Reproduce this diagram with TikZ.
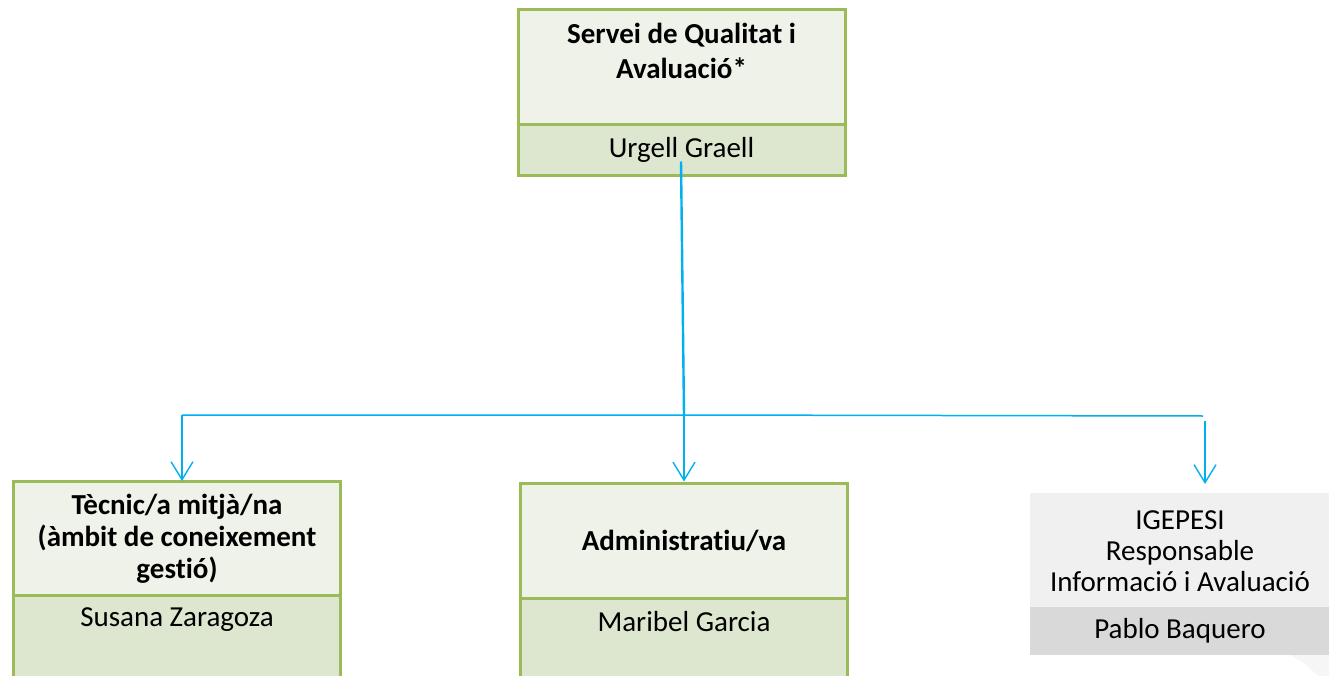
\documentclass[tikz,border=0pt]{standalone}
\usepackage{fontspec}
\setmainfont{Carlito}[Ligatures=NoCommon]
\usetikzlibrary{arrows.meta,calc}
\definecolor{hdrfill}{HTML}{EFF2E8}
\definecolor{namefill}{HTML}{DDE6CF}
\definecolor{boxline}{HTML}{9BBB59}
\definecolor{conn}{HTML}{00B0F0}
\definecolor{grayhdr}{HTML}{F0F0F0}
\definecolor{grayname}{HTML}{D9D9D9}
\tikzset{
  gbox/.style={draw=boxline, line width=3pt, rectangle, inner sep=0pt, minimum width=327pt},
  hdr/.style={gbox, fill=hdrfill},
  nm/.style={gbox, fill=namefill},
  gyhdr/.style={rectangle, fill=grayhdr, inner sep=0pt, minimum width=310pt},
  gynm/.style={rectangle, fill=grayname, inner sep=0pt, minimum width=310pt},
  ttl/.style={align=center, font=\fontsize{29}{32}\selectfont\bfseries},
  txt/.style={align=center, font=\fontsize{29}{31}\selectfont},
  cline/.style={draw=conn, line width=1.5pt},
  carr/.style={cline, -{Straight Barb[length=18pt,width=22pt,line width=1.4pt]}}
}
\begin{document}
\begin{tikzpicture}[x=1pt,y=-1pt]
\useasboundingbox (0,0) rectangle (1329,676);
\clip (0,0) rectangle (1329,676);
\fill[white] (0,0) rectangle (1329,676);
% top box
\node[hdr, minimum height=115pt] (tophdr) at (681.5,67.5) {};
\node[nm, minimum height=51pt] (topnm) at (681.5,150.5) {};
\node[ttl, font=\fontsize{29}{35}\selectfont\bfseries] (toptitle) at (681.5,51) {Servei de Qualitat i\\Avaluació*};
\node[txt] (topname) at (681.5,150) {Urgell Graell};
% left box
\node[hdr, minimum height=114pt] (lhdr) at (177,538) {};
\node[nm, minimum height=100pt] (lnm) at (177,645) {};
\node[ttl] (ltitle) at (177,539) {Tècnic/a mitjà/na\\(àmbit de coneixement\\gestió)};
\node[txt] (lname) at (177,620) {Susana Zaragoza};
% middle box
\node[hdr, minimum height=115pt] (mhdr) at (684,540.5) {};
\node[nm, minimum height=100pt] (mnm) at (684,648) {};
\node[ttl] (mtitle) at (684,541) {Administratiu/va};
\node[txt] (mname) at (684,622) {Maribel Garcia};
% right box
\fill[grayhdr!60] (1290,655) .. controls (1305,662) and (1312,670) .. (1318,676) -- (1329,676) -- (1329,655) -- cycle;
\node[gyhdr, minimum height=114pt] (rhdr) at (1185,550) {};
\node[gynm, minimum height=48pt] (rnm) at (1185,631) {};
\node[txt] (rtitle) at (1180,551) {IGEPESI\\Responsable\\Informació i Avaluació};
\node[txt] (rname) at (1180,631) {Pablo Baquero};
% connectors
\coordinate (j) at (684,415);
\coordinate (rend) at (1203,416);
\coordinate (rstart) at (1205,421);
\draw[cline, line width=2.4pt] ($(topnm.south)+(-0.5,-16)$) -- (j);
\draw[cline] (182,415) -- (j) -- (rend);
\draw[carr] (182,415) -- (182,481);
\draw[carr] (j) -- (mhdr.north);
\draw[carr] (rstart) -- (1205,484);
\end{tikzpicture}
\end{document}
